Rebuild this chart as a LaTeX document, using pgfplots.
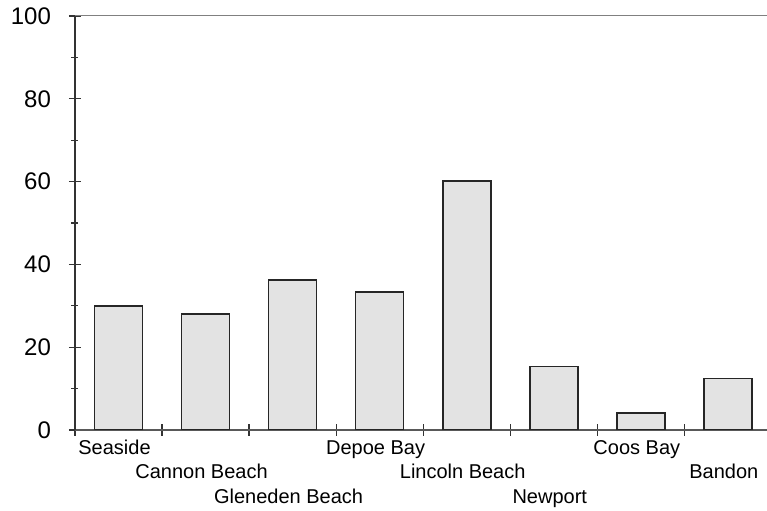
\documentclass[border=0pt]{standalone}
\usepackage{fontspec}
\setmainfont{Liberation Sans}
\usepackage{pgfplots}
\pgfplotsset{compat=1.18}
\usetikzlibrary{calc}
\begin{document}
\begin{tikzpicture}
\begin{axis}[
  name=ax,
  scale only axis,
  width=346pt, height=207pt,
  xmin=-0.5, xmax=7.45,
  ymin=0, ymax=100,
  axis lines*=left,
  axis line style={black!80, line width=0.8pt},
  x axis line style={black!65},
  ytick={0,20,...,100},
  minor y tick num=1,
  xtick={-0.5,0.5,...,6.5},
  xticklabels={},
  extra x ticks={0,...,7},
  extra x tick labels={
    {\strut Seaside},
    {\strut\\\strut Cannon Beach},
    {\strut\\\strut\\\strut Gleneden Beach},
    {\strut Depoe Bay},
    {\strut\\\strut Lincoln Beach},
    {\strut\\\strut\\\strut Newport},
    {\strut Coos Bay},
    {\strut\\\strut Bandon}},
  extra x tick style={major tick length=0pt,
    tick label style={align=center, font=\fontsize{10}{12.3}\selectfont, xshift=-2pt}},
  tick align=center,
  major tick length=6pt, minor tick length=3.5pt,
  tick style={black!80, line width=0.6pt},
  yticklabel style={font=\fontsize{12}{14}\selectfont, xshift=-5.5pt},
  /pgf/number format/assume math mode=true,
]
\addplot[ybar, bar width=24pt, fill=black!11, draw=black!85, line width=0.8pt]
  coordinates {(0,30) (1,28) (2,36.2) (3,33.3) (4,60.2) (5,15.3) (6,4.1) (7,12.4)};
\draw[black!50, line width=0.5pt] (rel axis cs:0,1) -- (rel axis cs:1,1);
\end{axis}
\pgfresetboundingbox
\path ($(ax.south west)+(-37.5pt,-40.5pt)$) rectangle ($(ax.north east)+(0pt,8pt)$);
\end{tikzpicture}
\end{document}
